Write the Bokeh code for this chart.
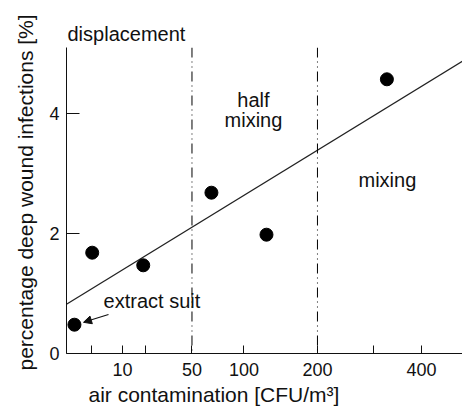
import numpy as np
from bokeh.plotting import figure
from bokeh.models import (Range1d, FixedTicker, CustomJSTickFormatter, Span, Label,
                          Arrow, NormalHead, Title)
from bokeh.embed import file_html
from bokeh.resources import INLINE

# ---- data ----
air_cfu = [0.2, 2.1, 18.7, 66.7, 127, 326]          # CFU/m3
infection_pct = [0.48, 1.68, 1.47, 2.68, 1.98, 4.57]  # %

fit_x = [0, 500]
fit_y = [0.82, 4.88]

x_tick_values = [2, 10, 20, 50, 100, 200, 300, 400]
x_tick_labels = ["", "10", "", "50", "100", "200", "", "400"]
y_tick_values = [0, 2, 4]

zone_bounds = [50, 200]

FONT = "Liberation Sans"
INK = "#111111"

def sx(v):
    return np.sqrt(np.asarray(v, dtype=float))

p = figure(width=462, height=408, output_backend="svg", toolbar_location=None,
           x_range=Range1d(0, float(sx(498))), y_range=Range1d(0, 5.1),
           min_border_left=66, min_border_right=0, min_border_top=47,
           min_border_bottom=55)
p.outline_line_color = None
p.grid.visible = False
p.background_fill_color = "white"
p.border_fill_color = "white"

# top-left zone text as the title
p.title.text = "displacement"
p.title.align = "left"
p.title.offset = 1
p.title.standoff = 6
p.title.text_font = FONT
p.title.text_font_size = "20px"
p.title.text_font_style = "normal"
p.title.text_color = INK

# axes
xa = p.xaxis[0]
xa.ticker = FixedTicker(ticks=[float(v) for v in sx(x_tick_values)], minor_ticks=[])
xa.formatter = CustomJSTickFormatter(args=dict(labels=x_tick_labels),
                                     code="return labels[index];")
xa.major_tick_in = 8
xa.major_tick_out = 0
xa.minor_tick_line_color = None
xa.major_label_standoff = 9
ya = p.yaxis[0]
ya.ticker = FixedTicker(ticks=y_tick_values, minor_ticks=[])
ya.major_tick_in = 13
ya.major_tick_out = 0
ya.minor_tick_line_color = None
ya.major_label_standoff = 7
for ax in (xa, ya):
    ax.axis_line_color = INK
    ax.major_tick_line_color = INK
    ax.major_label_text_font = FONT
    ax.major_label_text_font_size = "18px"
    ax.major_label_text_color = INK

# axis titles
p.add_layout(Title(text="air contamination  [CFU/m³]", align="left", offset=22,
                   standoff=4, text_font=FONT, text_font_size="21px",
                   text_font_style="normal", text_color=INK), "below")
p.add_layout(Title(text="percentage  deep  wound  infections  [%]", align="left",
                   offset=-17, standoff=20, text_font=FONT, text_font_size="21px",
                   text_font_style="normal", text_color=INK), "left")

# zone boundaries
for b in zone_bounds:
    p.add_layout(Span(location=float(sx(b)), dimension="height", line_color="black",
                      line_width=1, line_dash="10 4 1 4 1 4"))

# fit line
p.line(sx(fit_x), fit_y, line_color="#222222", line_width=1.3)

# points
p.scatter(sx(air_cfu), infection_pct, size=13, color="black")

def lab(text, x, y, align="center"):
    p.add_layout(Label(x=float(sx(x)), y=y, text=text, text_font=FONT,
                       text_font_size="20px", text_color=INK,
                       text_align=align, text_baseline="middle"))

lab("half", 111, 4.23)
lab("mixing", 111, 3.9)
lab("mixing", 327, 2.9)
lab("extract suit", 23.2, 0.88)

# arrow
p.add_layout(Arrow(x_start=float(sx(5.6)), y_start=0.65, x_end=float(sx(0.92)), y_end=0.52,
                   line_color=INK, line_width=1.2,
                   end=NormalHead(size=8, fill_color=INK, line_color=INK)))

open("out.html", "w").write(file_html(p, INLINE))
